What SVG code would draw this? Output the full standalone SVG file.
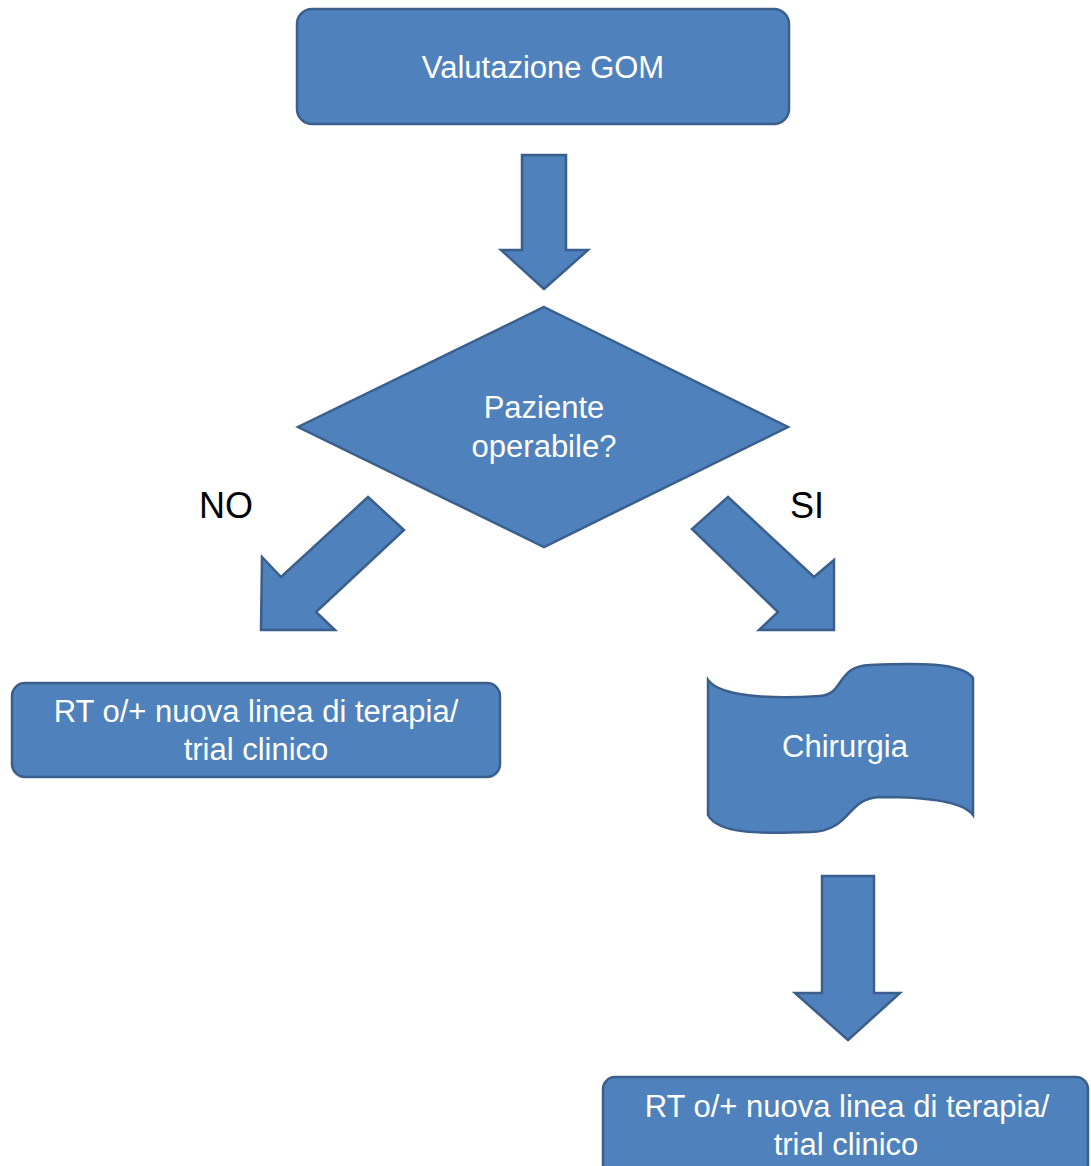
<svg xmlns="http://www.w3.org/2000/svg" width="1091" height="1166" viewBox="0 0 1091 1166">
  <style>
    .shape { fill: #4F81BD; stroke: #3A5F8C; stroke-width: 2.5; stroke-linejoin: miter; }
    .lbl { fill: #FFFFFF; font-family: "Liberation Sans", Arial, sans-serif; font-size: 31px; text-anchor: middle; }
    .tag { fill: #000000; font-family: "Liberation Sans", Arial, sans-serif; font-size: 36px; text-anchor: middle; }
  </style>
  <rect width="1091" height="1166" fill="#FFFFFF"/>

  <g id="connectors">
    <polygon id="arrow-gom-paziente" class="shape" points="522,155 566,155 566,250 588,250 544,289 501,250 522,250"/>
    <polygon id="arrow-no" class="shape" points="368,497 404,530 316,612 335,630 261,630 262,557 281,577"/>
    <polygon id="arrow-si" class="shape" points="728,497 692,529 778,612 759,630 834,630 834,560 814,577"/>
    <polygon id="arrow-chirurgia-rt" class="shape" points="822,876 874,876 874,993 900,993 848,1040 795,993 822,993"/>
    <text class="tag" x="226" y="518">NO</text>
    <text class="tag" x="807" y="518">SI</text>
  </g>

  <g id="node-valutazione">
    <rect class="shape" x="297" y="9" width="492" height="115" rx="15" ry="15"/>
    <text class="lbl" x="543" y="78">Valutazione GOM</text>
  </g>

  <g id="node-paziente">
    <polygon class="shape" points="544,307 788,427 544,547 298,427"/>
    <text class="lbl" x="544" y="418">Paziente</text>
    <text class="lbl" x="544" y="457">operabile?</text>
  </g>

  <g id="node-rt-left">
    <rect class="shape" x="12" y="683" width="488" height="94" rx="13" ry="13"/>
    <text class="lbl" x="256" y="722">RT o/+ nuova linea di terapia/</text>
    <text class="lbl" x="256" y="760">trial clinico</text>
  </g>

  <g id="node-chirurgia">
    <path class="shape" d="M708,680 C722,700 790,698 820,696 C845,694 836,666 870,665 C915,663 962,662 973,678 L973,815 C962,800 915,797 880,797 C846,798 852,831 810,832 C760,834 718,834 708,815 Z"/>
    <text class="lbl" x="845" y="757">Chirurgia</text>
  </g>

  <g id="node-rt-right">
    <rect class="shape" x="603" y="1077" width="485" height="110" rx="12" ry="12"/>
    <text class="lbl" x="847" y="1117">RT o/+ nuova linea di terapia/</text>
    <text class="lbl" x="846" y="1155">trial clinico</text>
  </g>
</svg>
